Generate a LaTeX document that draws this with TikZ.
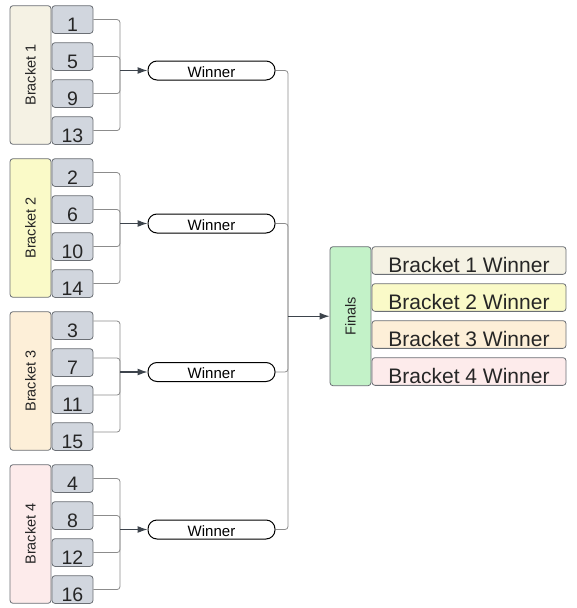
\documentclass[tikz,border=0pt]{standalone}
\usepackage{fontspec}
\setmainfont{Liberation Sans}
\usetikzlibrary{arrows.meta,positioning,calc}

\definecolor{bfa}{HTML}{F5F2E4}
\definecolor{bfb}{HTML}{FAFAC8}
\definecolor{bfc}{HTML}{FDEFD8}
\definecolor{bfd}{HTML}{FDEBEB}
\definecolor{seedfill}{HTML}{D1D6DE}
\definecolor{finfill}{HTML}{C3F2C8}
\definecolor{boxline}{HTML}{6B6F75}
\definecolor{linkc}{HTML}{8C8C8C}
\definecolor{feedc}{HTML}{3D444C}

\tikzset{
  box/.style={draw=boxline,line width=.8pt,rounded corners=3pt,inner sep=0pt,text=black!85},
  bracket/.style={box,rotate=90,minimum width=138.6pt,minimum height=41pt,font=\fontsize{14.5}{14.5}\selectfont},
  seed/.style={box,fill=seedfill,minimum width=41pt,text height=25.5pt,text depth=2.2pt,font=\fontsize{19.5}{20}\selectfont},
  pill/.style={draw=black,line width=1pt,fill=white,rounded corners=9pt,inner sep=0pt,minimum width=127pt,text height=16.3pt,text depth=2.7pt,font=\fontsize{15}{15}\selectfont},
  finals/.style={box,fill=finfill,rotate=90,minimum width=139pt,minimum height=41pt,font=\fontsize{14.5}{14.5}\selectfont},
  wrow/.style={box,minimum width=194pt,text height=26pt,text depth=1.7pt,font=\fontsize{21}{21}\selectfont},
  link/.style={draw=linkc,line width=.8pt,rounded corners=3pt},
  feed/.style={draw=feedc,line width=1.1pt}
}

\begin{document}
\begin{tikzpicture}[x=1pt,y=-1pt,>={Latex[length=10pt,width=7pt]}]
\useasboundingbox (0,0) rectangle (577,608);
% the four brackets
\foreach \b/\c/\s in {1/bfa/0,2/bfb/0,3/bfc/4.5,4/bfd/0}{
  \pgfmathsetmacro\ytop{5.7+(\b-1)*153}
  \node[bracket,fill=\c] (b\b) at (30.5,{\ytop+69.3}) {Bracket \b};
  \node[pill] (w\b) at (211.5,{\ytop+64.8-\s}) {Winner};
  \coordinate (j\b) at (120,{\ytop+64.8-\s});
  \foreach \k in {0,...,3}{
    \pgfmathtruncatemacro\n{\b+4*\k}
    \node[seed] (s\n) at (72.5,{\ytop+13.85+37*\k}) {\n};
    \draw[link] ([yshift=\s pt]s\n.east) -| (j\b);
  }
  \draw[feed,->] (j\b) -- (w\b.west);
}
% finals
\node[finals] (fin) at (350.5,316.2) {Finals};
\foreach \b/\c in {1/bfa,2/bfb,3/bfc,4/bfd}
  \node[wrow,fill=\c] (r\b) at (469,{260.5+37*(\b-1)}) {Bracket \b\ Winner};
\coordinate (fj) at (288,316.2);
\foreach \b in {1,...,4}
  \draw[link] (w\b.east) -| (fj);
\draw[feed,->] (fj) -- (fin.north);
\end{tikzpicture}
\end{document}
